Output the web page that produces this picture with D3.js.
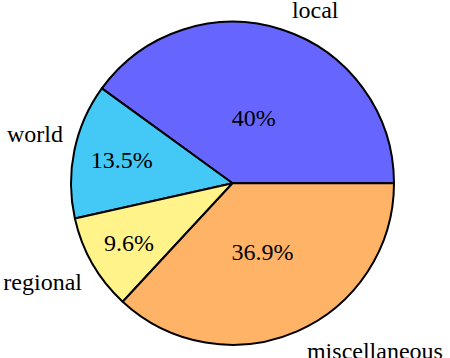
<!DOCTYPE html>
<html>
<head>
<meta charset="utf-8">
<script src="https://cdn.jsdelivr.net/npm/d3@7/dist/d3.min.js"></script>
<style>
  html, body { margin: 0; padding: 0; background: #fff; overflow: hidden; }
  svg { display: block; }
</style>
</head>
<body>
<svg id="chart" width="450" height="358"></svg>
<script>
// ---- data ----
const categories = ["local", "world", "regional", "miscellaneous"];
const shares = [40, 13.5, 9.6, 36.9];
const colors = ["#6666ff", "#44c8f5", "#fff38a", "#ffb366"];

// ---- layout ----
const FONT = "Liberation Serif";
const cx = 232.5, cy = 183.3, R = 161.5;
const pctRadius = [0.425, 0.70, 0.74, 0.465];
const outerNudge = [[4.5, 3.6], [4.4, -5.6], [3.5, 18], [3.4, 13]];

const svg = d3.select("#chart");
const g = svg.append("g").attr("transform", `translate(${cx},${cy})`);

const total = d3.sum(shares);
const angle = d3.scaleLinear().domain([0, total]).range([0, 2 * Math.PI]);

let acc = 0;
const slices = shares.map((v, i) => {
  const a0 = angle(acc), a1 = angle(acc + v);
  acc += v;
  return { i, v, a0, a1, mid: (a0 + a1) / 2 };
});

const toD3 = a => Math.PI / 2 - a;
const arc = d3.arc().innerRadius(0).outerRadius(R);

g.selectAll("path.slice")
  .data(slices)
  .join("path")
  .attr("class", "slice")
  .attr("d", d => arc({ startAngle: toD3(d.a1), endAngle: toD3(d.a0) }))
  .attr("fill", d => colors[d.i])
  .attr("stroke", "#000")
  .attr("stroke-width", 2)
  .attr("stroke-linejoin", "round");

g.selectAll("text.pct")
  .data(slices)
  .join("text")
  .attr("class", "pct")
  .attr("font-family", FONT)
  .attr("font-size", 24)
  .attr("x", d => Math.cos(d.mid) * R * pctRadius[d.i])
  .attr("y", d => -Math.sin(d.mid) * R * pctRadius[d.i])
  .attr("dy", "0.33em")
  .attr("text-anchor", "middle")
  .text(d => d.v + "%");

g.selectAll("text.cat")
  .data(slices)
  .join("text")
  .attr("class", "cat")
  .attr("font-family", FONT)
  .attr("font-size", 24)
  .attr("x", d => Math.cos(d.mid) * R * 1.1 + outerNudge[d.i][0])
  .attr("y", d => -Math.sin(d.mid) * R * 1.1 + outerNudge[d.i][1])
  .attr("text-anchor", d => Math.cos(d.mid) < 0 ? "end" : "start")
  .text(d => categories[d.i]);
</script>
</body>
</html>
